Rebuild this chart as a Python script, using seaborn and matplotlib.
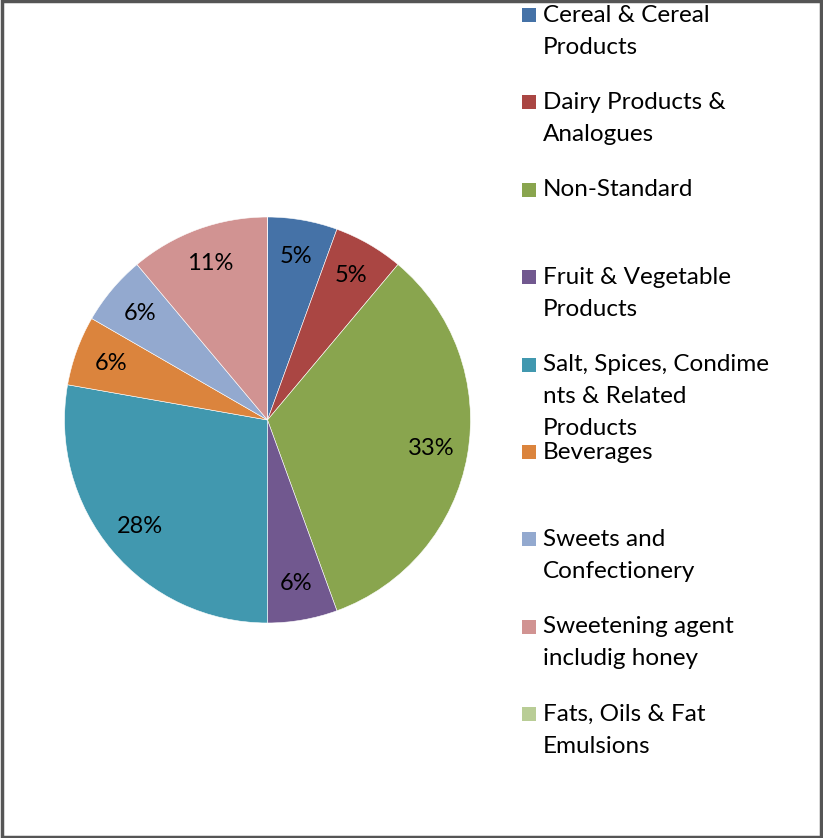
import matplotlib
matplotlib.use("Agg")
import matplotlib.pyplot as plt
import seaborn as sns
from matplotlib.patches import Rectangle

sns.set_theme(style="white")
plt.rcParams['font.family'] = ['Lato', 'DejaVu Sans']

categories = ["Cereal & Cereal\nProducts", "Dairy Products &\nAnalogues", "Non-Standard",
              "Fruit & Vegetable\nProducts", "Salt, Spices, Condime\nnts & Related\nProducts",
              "Beverages", "Sweets and\nConfectionery", "Sweetening agent\nincludig honey",
              "Fats, Oils & Fat\nEmulsions"]
counts = [1, 1, 6, 1, 5, 1, 1, 2, 0]
pct_labels = ["5%", "5%", "33%", "6%", "28%", "6%", "6%", "11%", ""]
colors = ["#4572A7", "#AA4643", "#89A54E", "#71588F", "#4198AF",
          "#DB843D", "#93A9CF", "#D19392", "#B9CD96"]

W, H = 823, 838
fig = plt.figure(figsize=(W / 100, H / 100), dpi=100)
cx, cy, r = 267.5, 420, 203
ax = fig.add_axes([(cx - r) / W, (H - cy - r) / H, 2 * r / W, 2 * r / H])

lab_iter = iter(pct_labels)
ax.pie(counts, colors=colors, startangle=90, counterclock=False,
       autopct=lambda p: next(lab_iter), pctdistance=0.82,
       wedgeprops=dict(edgecolor="white", linewidth=0.4),
       textprops=dict(fontsize=17, color="black"))
ax.set_xlim(-1, 1)
ax.set_ylim(-1, 1)
ax.set_aspect("equal")

# legend
y0, step, line_h = 15, 87.4, 32
for i, (cat, col) in enumerate(zip(categories, colors)):
    y = y0 + i * step
    fig.patches.append(Rectangle((522 / W, 1 - (y + 7) / H), 14 / W, 14 / H,
                                 transform=fig.transFigure, facecolor=col,
                                 edgecolor="none"))
    for k, line in enumerate(cat.split("\n")):
        fig.text(543 / W, 1 - (y + k * line_h) / H, line, fontsize=17.5,
                 va="center", ha="left", color="black")

# outer frame
fig.patches.append(Rectangle((2 / W, 1.5 / H), 819 / W, 835 / H, transform=fig.transFigure,
                             facecolor="none", edgecolor="#555555", linewidth=2.5))

fig.savefig("out.png", dpi=100)
